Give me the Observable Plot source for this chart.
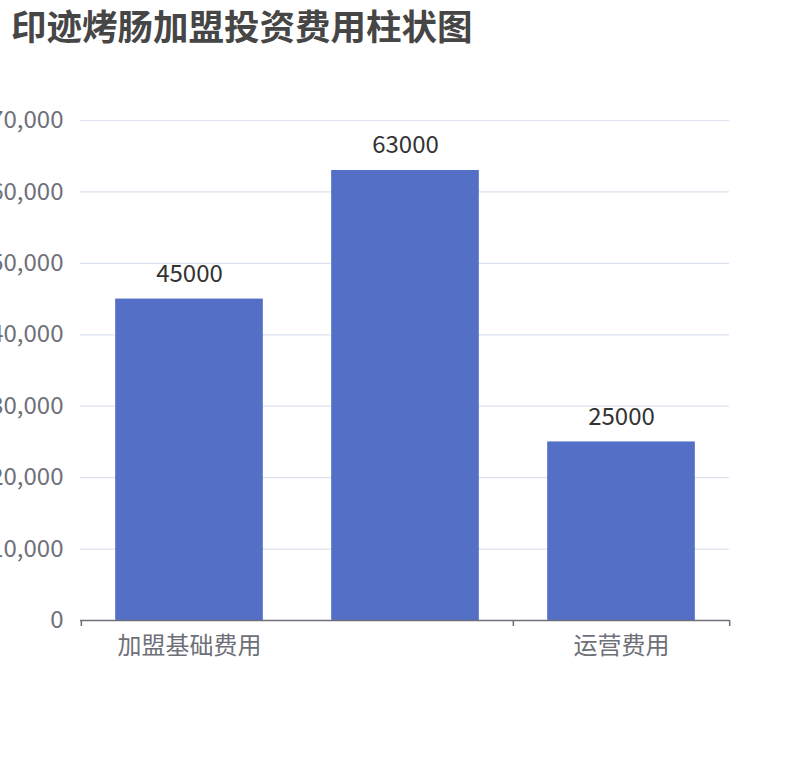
<!DOCTYPE html>
<html>
<head>
<meta charset="utf-8">
<script src="https://cdn.jsdelivr.net/npm/d3@7"></script>
<script src="https://cdn.jsdelivr.net/npm/@observablehq/plot@0.6"></script>
<style>
  html, body { margin: 0; padding: 0; background: #fff; width: 810px; height: 760px; overflow: hidden; }
  #title { position: absolute; left: 11px; top: 0px; height: 55px; line-height: 50px; font-family: "Noto Sans CJK SC", sans-serif; font-weight: bold; font-size: 35.5px; color: #464646; white-space: nowrap; }
  #chart { position: absolute; left: 0; top: 55px; }
</style>
</head>
<body>
<div id="title">印迹烤肠加盟投资费用柱状图</div>
<div id="chart"></div>
<script>
const categories = ["加盟基础费用", "设备装修费用", "运营费用"];
const values = [45000, 63000, 25000];
const shownLabels = ["加盟基础费用", "运营费用"];
const yTicks = [0, 10000, 20000, 30000, 40000, 50000, 60000, 70000];

const data = categories.map((c, i) => ({category: c, value: values[i]}));
const font = "Noto Sans CJK SC, sans-serif";
const W = 810, H = 705;
const mL = 80, mR = 81, mT = 65, mB = 140;
const bw = (W - mL - mR) / categories.length;
const barW = 148;
const inset = (bw - barW) / 2;

const plot = Plot.plot({
  width: W,
  height: H,
  marginLeft: mL,
  marginRight: mR,
  marginTop: mT,
  marginBottom: mB,
  style: {fontFamily: font, background: "#fff", overflow: "visible"},
  x: {type: "band", domain: categories, padding: 0, axis: null},
  y: {domain: [0, 70000], axis: null},
  marks: [
    Plot.ruleY(yTicks.filter(d => d > 0), {stroke: "#DCE2EF", strokeWidth: 1.2}),
    Plot.text(yTicks, {y: d => d, text: d => d3.format(",")(d), frameAnchor: "left", textAnchor: "end", dx: -17, fill: "#6E7079", fontSize: 24}),
    Plot.barY(data, {x: "category", y: "value", fill: "#5470C6", insetLeft: inset, insetRight: inset}),
    Plot.text(data.filter(d => d.category !== categories[1]), {x: "category", y: "value", text: d => String(d.value), dy: -25, fill: "#333", fontSize: 24}),
    Plot.text(data.filter(d => d.category === categories[1]), {x: "category", y: "value", text: d => String(d.value), dy: -25, fill: "#333", fontSize: 24}),
    Plot.ruleY([0], {stroke: "#6E7079", strokeWidth: 1.5}),
    Plot.ruleX(shownLabels, {x: d => d, y1: 0, y2: 0, insetBottom: -6, dx: -bw / 2, stroke: "#6E7079", strokeWidth: 1.5}),
    Plot.ruleX([categories[categories.length - 1]], {x: d => d, y1: 0, y2: 0, insetBottom: -6, dx: bw / 2, stroke: "#6E7079", strokeWidth: 1.5}),
    Plot.text(shownLabels, {x: d => d, y: 0, text: d => d, dy: 26, fill: "#6E7079", fontSize: 24})
  ]
});
document.getElementById("chart").appendChild(plot);
</script>
</body>
</html>
